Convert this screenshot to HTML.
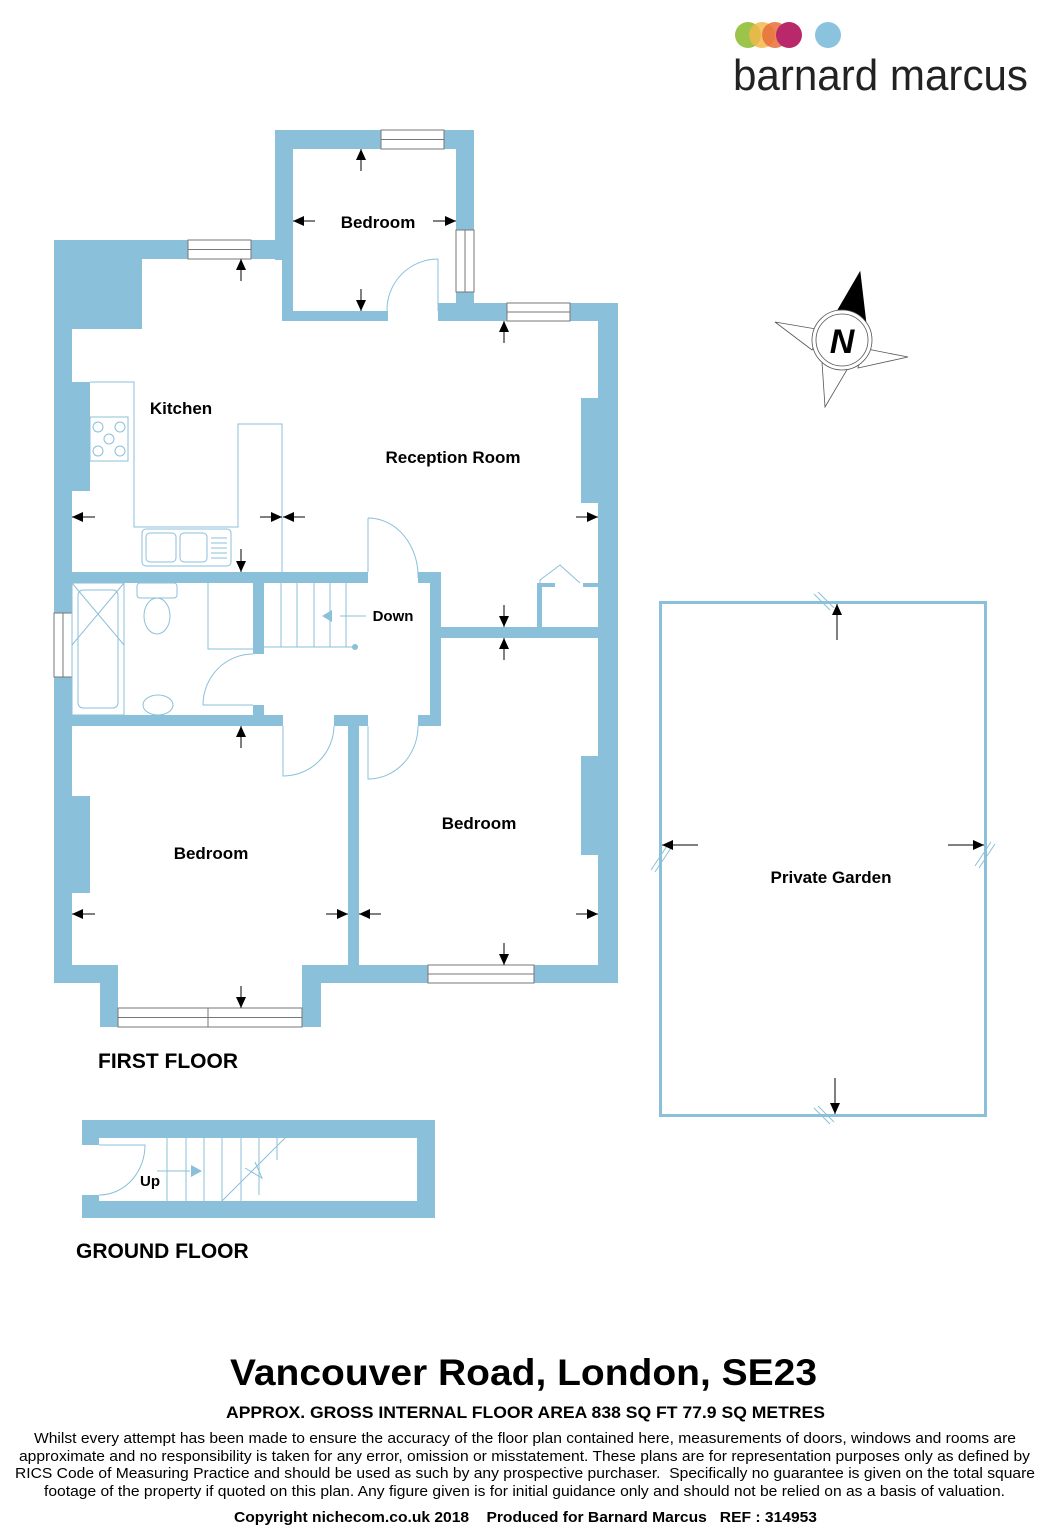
<!DOCTYPE html>
<html><head><meta charset="utf-8"><style>
html,body{margin:0;padding:0;background:#fff}
svg{display:block}
text{font-family:"Liberation Sans",Arial,sans-serif}
</style></head><body>
<svg width="1053" height="1536" viewBox="0 0 1053 1536" xmlns="http://www.w3.org/2000/svg">
<defs>
<marker id="ah" markerWidth="11" markerHeight="10" refX="11" refY="5" orient="auto" markerUnits="userSpaceOnUse" viewBox="0 0 11 10">
<path d="M0,0 L11,5 L0,10 Z" fill="#000"/></marker>
</defs>

<!-- logo -->
<circle cx="748" cy="35" r="13" fill="#9cc44b"/>
<circle cx="762" cy="35" r="13" fill="#f2b84a" opacity="0.85"/>
<circle cx="775" cy="35" r="13" fill="#e86f3a" opacity="0.85"/>
<circle cx="789" cy="35" r="13" fill="#b8286a"/>
<circle cx="828" cy="35" r="13" fill="#8bc3df"/>
<text x="733" y="90" font-size="44" fill="#222" textLength="295" lengthAdjust="spacingAndGlyphs">barnard marcus</text>

<!-- compass -->
<g stroke="#555" stroke-width="0.8" fill="#fff">
<polygon points="775,322 822,330 812,350"/>
<polygon points="908,357 862,348 858,368"/>
<polygon points="825,407 822,362 848,368"/>
<polygon points="860,272 866,323 832,320" fill="#000" stroke="#000"/>
<circle cx="842" cy="340" r="30"/>
<circle cx="842" cy="340" r="26"/>
</g>
<text x="842" y="353" font-size="34" font-weight="bold" font-style="italic" text-anchor="middle">N</text>

<g fill="#8bc0da">
<rect x="275" y="130" width="199" height="19"/>
<rect x="275" y="130" width="18" height="130"/>
<rect x="282" y="240" width="11" height="81"/>
<rect x="456" y="130" width="18" height="174"/>
<rect x="282" y="311" width="106" height="10"/>
<rect x="438" y="311" width="20" height="10"/>
<rect x="438" y="303" width="180" height="18"/>
<rect x="54" y="240" width="228" height="19"/>
<rect x="54" y="240" width="88" height="89"/>
<rect x="54" y="240" width="18" height="743"/>
<rect x="72" y="382" width="18" height="109"/>
<rect x="72" y="796" width="18" height="97"/>
<rect x="598" y="303" width="20" height="680"/>
<rect x="581" y="398" width="17" height="105"/>
<rect x="581" y="756" width="17" height="99"/>
<rect x="72" y="572" width="296" height="11"/>
<rect x="418" y="572" width="23" height="11"/>
<rect x="430" y="572" width="11" height="154"/>
<rect x="418" y="715" width="23" height="11"/>
<rect x="441" y="627" width="157" height="11"/>
<rect x="537" y="583" width="5" height="44"/>
<rect x="537" y="583" width="18" height="4"/>
<rect x="583" y="583" width="15" height="4"/>
<rect x="253" y="583" width="11" height="71"/>
<rect x="253" y="705" width="11" height="10"/>
<rect x="72" y="715" width="211" height="11"/>
<rect x="334" y="715" width="34" height="11"/>
<rect x="348" y="715" width="11" height="250"/>
<rect x="54" y="965" width="64" height="18"/>
<rect x="100" y="965" width="18" height="62"/>
<rect x="302" y="965" width="19" height="62"/>
<rect x="302" y="965" width="316" height="18"/>
<rect x="82" y="1120" width="353" height="18"/>
<rect x="82" y="1201" width="353" height="17"/>
<rect x="417" y="1120" width="18" height="98"/>
<rect x="82" y="1120" width="17" height="25"/>
<rect x="82" y="1195" width="17" height="23"/>
</g>

<g fill="#fff" stroke="#777" stroke-width="1">
<rect x="381" y="130" width="63" height="19"/><line x1="381" y1="139.5" x2="444" y2="139.5"/>
<rect x="456" y="230" width="18" height="62"/><line x1="465" y1="230" x2="465" y2="292"/>
<rect x="188" y="240" width="63" height="19"/><line x1="188" y1="249.5" x2="251" y2="249.5"/>
<rect x="507" y="303" width="63" height="18"/><line x1="507" y1="312" x2="570" y2="312"/>
<rect x="54" y="613" width="18" height="64"/><line x1="63" y1="613" x2="63" y2="677"/>
<rect x="118" y="1008" width="184" height="19"/><line x1="118" y1="1017.5" x2="302" y2="1017.5"/><line x1="208" y1="1008" x2="208" y2="1027"/>
<rect x="428" y="965" width="106" height="18"/><line x1="428" y1="974" x2="534" y2="974"/>
</g>

<g fill="none" stroke="#8bc0da" stroke-width="1">
<path d="M438,259 L438,311 M438,259 A51,51 0 0 0 387,311"/>
<path d="M368,518 L368,572 M368,518 A50,58 0 0 1 418,578"/>
<path d="M90,382 L134,382 L134,527 L238,527 L238,424 L282,424 L282,572"/>
<rect x="90" y="417" width="38" height="44"/>
<circle cx="98" cy="427" r="5"/><circle cx="120" cy="427" r="5"/><circle cx="109" cy="439" r="5"/><circle cx="98" cy="451" r="5"/><circle cx="120" cy="451" r="5"/>
<rect x="142" y="529" width="89" height="37" rx="4"/>
<rect x="146" y="533" width="30" height="29" rx="4"/><rect x="180" y="533" width="27" height="29" rx="4"/>
<path d="M211,538 h16 M211,543 h16 M211,548 h16 M211,553 h16 M211,558 h16"/>
<path d="M540,583 L540,580 L560,565 L580,583"/>
<rect x="72" y="583" width="52" height="132"/>
<rect x="78" y="590" width="40" height="118" rx="5"/>
<path d="M72,583 L124,645 M124,583 L72,645"/>
<rect x="137" y="583" width="40" height="15" rx="3"/>
<ellipse cx="157" cy="616" rx="13" ry="18"/>
<ellipse cx="158" cy="705" rx="15" ry="10"/>
<path d="M208,583 L208,649 L253,649"/>
<path d="M264,647 L355,647 M281,583 L281,647 M297,583 L297,647 M314,583 L314,647 M330,583 L330,647 M346,583 L346,647"/>
<path d="M340,616 L366,616"/>
<path d="M253,654 A50,51 0 0 0 203,705 L253,705"/>
<path d="M283,726 L283,776 A51,51 0 0 0 334,726"/>
<path d="M368,726 L368,779 A50,53 0 0 0 418,726"/>
<path d="M99,1145 L145,1145 A46,50 0 0 1 99,1195"/>
<path d="M167,1138 V1201 M186,1138 V1201 M204,1138 V1201 M222,1138 V1201 M241,1138 V1201 M259,1138 V1195 M277,1138 V1160 M222,1201 L285,1138 M245,1168 L262,1178 L255,1162"/>
<path d="M157,1171 L190,1171"/>
</g>
<circle cx="355" cy="647" r="3" fill="#8bc0da"/>
<polygon points="322,616 332,610 332,622" fill="#8bc0da"/>
<polygon points="202,1171 191,1165 191,1177" fill="#8bc0da"/>

<rect x="660.5" y="602.5" width="325" height="513" fill="none" stroke="#8bc0da" stroke-width="3"/>
<g stroke="#8bc0da" stroke-width="1"><path d="M814,594 L830,610 M818,592 L834,608 M814,1108 L830,1124 M818,1106 L834,1122 M651,870 L667,846 M655,872 L671,848 M975,866 L991,842 M979,868 L995,844"/></g>

<g stroke="#000" stroke-width="1" marker-end="url(#ah)">
<line x1="361" y1="171" x2="361" y2="149"/><line x1="315" y1="221" x2="293" y2="221"/><line x1="433" y1="221" x2="456" y2="221"/><line x1="361" y1="289" x2="361" y2="311"/>
<line x1="241" y1="281" x2="241" y2="259"/><line x1="95" y1="517" x2="72" y2="517"/><line x1="260" y1="517" x2="282" y2="517"/><line x1="241" y1="549" x2="241" y2="572"/>
<line x1="305" y1="517" x2="283" y2="517"/><line x1="576" y1="517" x2="598" y2="517"/><line x1="504" y1="343" x2="504" y2="321"/><line x1="504" y1="605" x2="504" y2="627"/>
<line x1="504" y1="660" x2="504" y2="638"/><line x1="381" y1="914" x2="359" y2="914"/><line x1="576" y1="914" x2="598" y2="914"/><line x1="504" y1="943" x2="504" y2="965"/>
<line x1="241" y1="748" x2="241" y2="726"/><line x1="95" y1="914" x2="72" y2="914"/><line x1="326" y1="914" x2="348" y2="914"/><line x1="241" y1="986" x2="241" y2="1008"/>
<line x1="837" y1="640" x2="837" y2="604"/><line x1="835" y1="1078" x2="835" y2="1114"/><line x1="698" y1="845" x2="662" y2="845"/><line x1="948" y1="845" x2="984" y2="845"/>
</g>

<g font-size="17" font-weight="bold" fill="#000">
<text x="378" y="228" text-anchor="middle">Bedroom</text>
<text x="181" y="414" text-anchor="middle">Kitchen</text>
<text x="453" y="463" text-anchor="middle">Reception Room</text>
<text x="393" y="621" text-anchor="middle" font-size="15">Down</text>
<text x="479" y="829" text-anchor="middle">Bedroom</text>
<text x="211" y="859" text-anchor="middle">Bedroom</text>
<text x="831" y="883" text-anchor="middle">Private Garden</text>
<text x="150" y="1186" text-anchor="middle" font-size="15">Up</text>
</g>
<text x="98" y="1068" font-size="21" font-weight="bold">FIRST FLOOR</text>
<text x="76" y="1258" font-size="21" font-weight="bold">GROUND FLOOR</text>

<text x="230" y="1385" font-size="37" font-weight="bold" textLength="587" lengthAdjust="spacingAndGlyphs">Vancouver Road, London, SE23</text>
<text x="226" y="1418" font-size="17" font-weight="bold" textLength="599" lengthAdjust="spacingAndGlyphs">APPROX. GROSS INTERNAL FLOOR AREA 838 SQ FT 77.9 SQ METRES</text>
<g font-size="15" fill="#000">
<text x="34" y="1443" textLength="982" lengthAdjust="spacingAndGlyphs">Whilst every attempt has been made to ensure the accuracy of the floor plan contained here, measurements of doors, windows and rooms are</text>
<text x="19" y="1461" textLength="1011" lengthAdjust="spacingAndGlyphs">approximate and no responsibility is taken for any error, omission or misstatement. These plans are for representation purposes only as defined by</text>
<text x="15" y="1478" textLength="1020" lengthAdjust="spacingAndGlyphs">RICS Code of Measuring Practice and should be used as such by any prospective purchaser.&#160; Specifically no guarantee is given on the total square</text>
<text x="44" y="1496" textLength="961" lengthAdjust="spacingAndGlyphs">footage of the property if quoted on this plan. Any figure given is for initial guidance only and should not be relied on as a basis of valuation.</text>
</g>
<text x="234" y="1522" font-size="15" font-weight="bold" textLength="583" lengthAdjust="spacingAndGlyphs">Copyright nichecom.co.uk 2018&#160;&#160;&#160; Produced for Barnard Marcus&#160;&#160; REF : 314953</text>
</svg>
</body></html>
